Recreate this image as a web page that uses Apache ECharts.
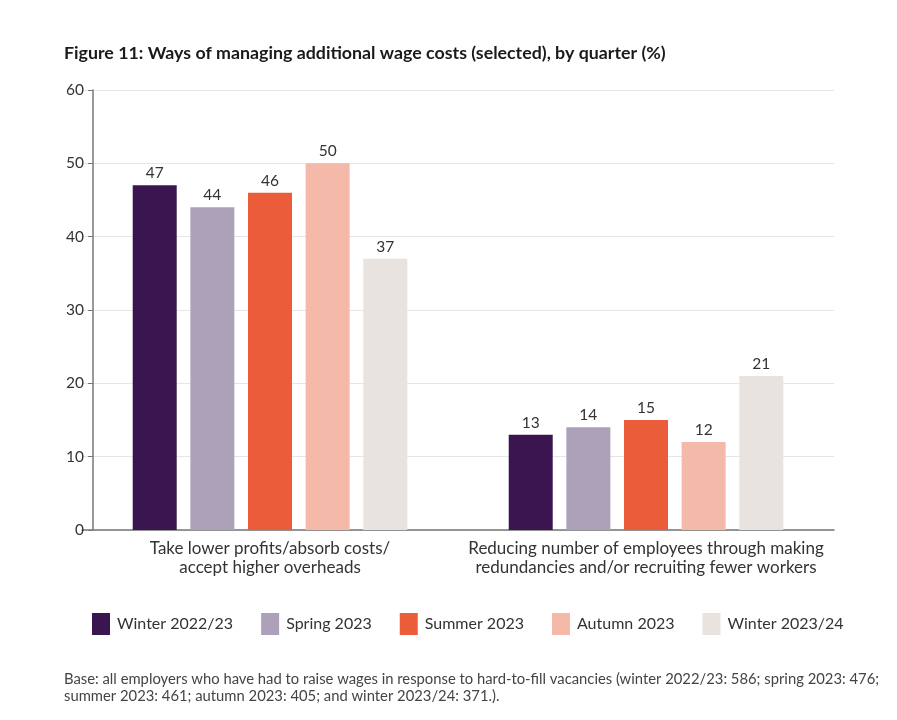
<!DOCTYPE html>
<html>
<head>
<meta charset="utf-8">
<script src="https://cdn.jsdelivr.net/npm/echarts@6/dist/echarts.min.js"></script>
<style>html,body{margin:0;padding:0;background:#fff}#c{width:897px;height:720px}</style>
</head>
<body>
<div id="c"></div>
<script>
const categories = [
  "Take lower profits/absorb costs/\naccept higher overheads",
  "Reducing number of employees through making\nredundancies and/or recruiting fewer workers"
];
const seriesNames = ["Winter 2022/23", "Spring 2023", "Summer 2023", "Autumn 2023", "Winter 2023/24"];
const winter2223 = [47, 13];
const spring23 = [44, 14];
const summer23 = [46, 15];
const autumn23 = [50, 12];
const winter2324 = [37, 21];
const yTicks = [0, 10, 20, 30, 40, 50, 60];
const colors = ["#3b1550", "#ada0b9", "#eb5c3b", "#f4b9a8", "#e8e3df"];
const title = "Figure 11: Ways of managing additional wage costs (selected), by quarter (%)";
const footnote = "Base: all employers who have had to raise wages in response to hard-to-fill vacancies (winter 2022/23: 586; spring 2023: 476;\nsummer 2023: 461; autumn 2023: 405; and winter 2023/24: 371.).";

const values = [winter2223, spring23, summer23, autumn23, winter2324];
const FONT = "Lato";
const chart = echarts.init(document.getElementById('c'), null, {renderer: 'canvas'});
chart.setOption({
  backgroundColor: '#ffffff',
  animation: false,
  textStyle: {fontFamily: FONT},
  title: [
    {text: title, left: 59, top: 39, textStyle: {fontFamily: FONT, fontSize: 17.8, fontWeight: 'bold', color: '#1a1a1a'}},
    {text: footnote, left: 59, top: 666, textStyle: {fontFamily: FONT, fontSize: 14.8, fontWeight: 'normal', color: '#444', lineHeight: 17}}
  ],
  legend: {
    data: seriesNames,
    top: 608,
    left: 87,
    itemWidth: 18,
    itemHeight: 22,
    itemGap: 28,
    icon: 'rect',
    textStyle: {fontFamily: FONT, fontSize: 16, color: '#333', padding: [0, 0, 0, 2]}
  },
  grid: {left: 82, right: 63, top: 90, bottom: 190, containLabel: false},
  xAxis: {
    type: 'category',
    data: categories,
    axisLine: {show: true, lineStyle: {color: '#777', width: 1.5}},
    axisTick: {show: false},
    axisLabel: {interval: 0, fontFamily: FONT, fontSize: 17, color: '#333', lineHeight: 19, margin: 9}
  },
  yAxis: {
    type: 'value',
    min: yTicks[0],
    max: yTicks[yTicks.length - 1],
    interval: 10,
    offset: -11,
    axisLine: {show: true, lineStyle: {color: '#777', width: 1.5}},
    axisTick: {show: true, length: 5, lineStyle: {color: '#777'}},
    axisLabel: {fontFamily: FONT, fontSize: 15.5, color: '#333', margin: 9},
    splitLine: {show: true, lineStyle: {color: '#e6e6e6', width: 1}}
  },
  series: seriesNames.map((n, i) => ({
    name: n,
    type: 'bar',
    data: values[i],
    barWidth: 44,
    barGap: '31%',
    itemStyle: {color: colors[i]},
    label: {show: true, position: 'top', distance: 4, fontFamily: FONT, fontSize: 15.5, color: '#333'}
  }))
});
</script>
</body>
</html>
